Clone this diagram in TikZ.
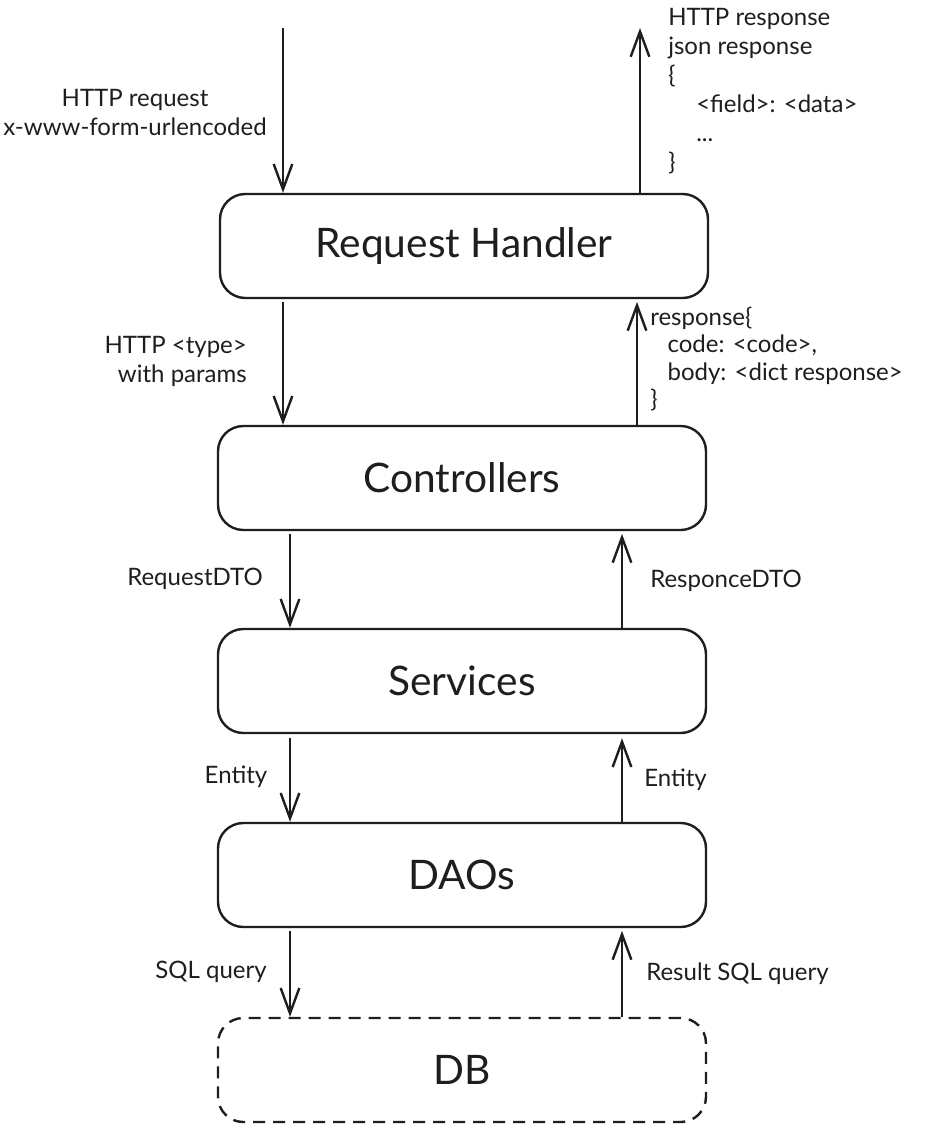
\documentclass[tikz,border=0pt]{standalone}
\usepackage{fontspec}
\setmainfont{Lato}
\usetikzlibrary{arrows.meta,calc}
\definecolor{ink}{HTML}{1E1E1E}
\tikzset{
  layer/.style={draw=ink, line width=1.8pt, rounded corners=19pt, inner sep=0pt,
    minimum width=366pt, minimum height=78pt, text=ink, font=\fontsize{30.5}{34}\selectfont},
  dblayer/.style={layer, dash pattern=on 9pt off 6pt},
  arr/.style={draw=ink, line width=1.8pt, -{Straight Barb[length=19pt,width=14pt,line width=1.8pt]}},
  lbl/.style={inner sep=0pt, font=\fontsize{18}{21.75}\selectfont, text=ink},
}
\begin{document}
\begin{tikzpicture}[x=0.75pt,y=-0.75pt]
\useasboundingbox (0,0) rectangle (949,1137);
\fill[white] (0,0) rectangle (949,1137);

\node[layer] (rh) at (464,246) {Request Handler};
\node[layer] (ctrl) at (462,478) {Controllers};
\node[layer] (srv) at (462,681) {Services};
\node[layer] (dao) at (462,875) {DAOs};
\node[dblayer] (db) at (462,1070) {DB};

\coordinate (inTop) at (283,28);
\coordinate (outTop) at (640,28);
\coordinate (xa) at (283,0);
\coordinate (xb) at (637,0);
\coordinate (xc) at (290,0);
\coordinate (xd) at (622,0);

\draw[arr] (inTop) -- (rh.north -| inTop);
\draw[arr] (rh.north -| outTop) -- (outTop);
\draw[arr] ([yshift=-2pt]rh.south -| xa) -- (ctrl.north -| xa);
\draw[arr] (ctrl.north -| xb) -- ([yshift=-2pt]rh.south -| xb);
\draw[arr] ([yshift=-2pt]ctrl.south -| xc) -- (srv.north -| xc);
\draw[arr] (srv.north -| xd) -- ([yshift=-2pt]ctrl.south -| xd);
\draw[arr] ([yshift=-3pt]srv.south -| xc) -- (dao.north -| xc);
\draw[arr] (dao.north -| xd) -- ([yshift=-3pt]srv.south -| xd);
\draw[arr] ([yshift=-2pt]dao.south -| xc) -- (db.north -| xc);
\draw[arr] (db.north -| xd) -- ([yshift=-2pt]dao.south -| xd);

\node[lbl, align=center] (l1) at (135,113) {HTTP request\\x-www-form-urlencoded};
\node[lbl, align=left, anchor=west] (l2) at (668,91) {HTTP response\\json response\\\{\\\hspace*{21pt}<field>: <data>\\\hspace*{21pt}...\\\}};
\node[lbl, align=right, anchor=east] (l3) at (247,361) {HTTP <type>\\with params};
\node[lbl, align=left, anchor=west, font=\fontsize{18}{20.6}\selectfont] (l4) at (650,359) {response\{\\\hspace*{13pt}code: <code>,\\\hspace*{13pt}body: <dict response>\\\}};
\node[lbl] (l5) at (195,579) {RequestDTO};
\node[lbl, anchor=west] (l6) at (650,581) {ResponceDTO};
\node[lbl] (l7) at (236,777) {Entity};
\node[lbl, anchor=west] (l8) at (644,780) {Entity};
\node[lbl] (l9) at (211,972) {SQL query};
\node[lbl, anchor=west] (l10) at (646,974) {Result SQL query};
\end{tikzpicture}
\end{document}
